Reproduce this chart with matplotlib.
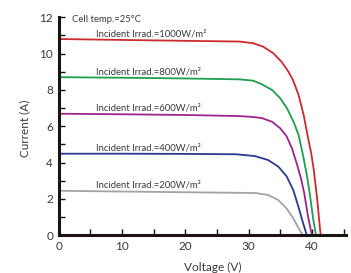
import matplotlib
matplotlib.use("Agg")
import matplotlib.pyplot as plt
from matplotlib.ticker import MultipleLocator

plt.rcParams['font.family'] = ['Lato', 'DejaVu Sans']

# I-V curves, voltage (V) / current (A)
v_1000 = [0, 10, 20, 28.6, 30.7, 32.3, 33.9, 35.2, 36.3, 37.0, 37.9, 38.7, 39.3, 39.9, 40.3, 40.85, 41.3, 41.4]
i_1000 = [10.80, 10.75, 10.70, 10.66, 10.57, 10.38, 10.02, 9.55, 9.0, 8.55, 7.72, 6.62, 5.52, 4.5, 3.6, 1.94, 0.29, 0]

v_800 = [0, 10, 20, 28.6, 30.7, 32.1, 33.7, 35.0, 36.07, 37.1, 37.9, 38.6, 39.2, 39.7, 40.2, 40.65]
i_800 = [8.70, 8.67, 8.63, 8.58, 8.51, 8.31, 8.0, 7.54, 6.99, 6.25, 5.52, 4.4, 3.32, 2.2, 0.9, 0]

v_600 = [0, 10, 20, 28.6, 30.7, 32.1, 33.7, 35.0, 36.0, 36.85, 37.65, 38.3, 38.8, 39.4, 40.0]
i_600 = [6.69, 6.66, 6.62, 6.56, 6.51, 6.45, 6.25, 5.89, 5.45, 4.79, 3.9, 3.1, 2.3, 1.02, 0]

v_400 = [0, 10, 20, 28.0, 31.0, 33.1, 34.7, 36.0, 37.06, 37.85, 38.5, 39.2]
i_400 = [4.49, 4.49, 4.48, 4.46, 4.36, 4.14, 3.78, 3.25, 2.49, 1.6, 0.8, 0]

v_200 = [0, 10, 20, 28.0, 31.0, 33.1, 34.7, 36.0, 37.06, 37.85, 38.6]
i_200 = [2.45, 2.41, 2.37, 2.34, 2.33, 2.22, 1.94, 1.48, 0.94, 0.42, 0]

labels = ['Incident Irrad.=1000W/m²', 'Incident Irrad.=800W/m²',
          'Incident Irrad.=600W/m²', 'Incident Irrad.=400W/m²',
          'Incident Irrad.=200W/m²']
label_y = [11.08, 9.0, 6.98, 4.8, 2.78]
colors = ['#cc2a2e', '#1f9e4f', '#9b2590', '#2b3990', '#a3a3a3']

curves = [(v_1000, i_1000), (v_800, i_800), (v_600, i_600), (v_400, i_400), (v_200, i_200)]

fig = plt.figure(figsize=(3.51, 2.73), dpi=100)
ax = fig.add_axes([0.167, 0.138, 0.819, 0.799])

for (v, i), c in zip(curves, colors):
    ax.plot(v, i, color=c, lw=1.3, solid_joinstyle='round')

txtcol = '#3a3a3a'
for lab, y in zip(labels, label_y):
    ax.text(5.9, y, lab, fontsize=6.8, color=txtcol, va='center')
ax.text(2.1, 11.85, 'Cell temp.=25°C', fontsize=6.8, color=txtcol, va='center')

ax.set_xlim(0, 45.4)
ax.set_ylim(0, 12)
ax.xaxis.set_major_locator(MultipleLocator(10))
ax.xaxis.set_minor_locator(MultipleLocator(5))
ax.yaxis.set_major_locator(MultipleLocator(2))
ax.yaxis.set_minor_locator(MultipleLocator(1))
ax.tick_params(which='both', direction='in', width=1, length=4, colors='#111111',
               labelcolor=txtcol, labelsize=8.5, pad=4)
ax.spines['top'].set_visible(False)
ax.spines['right'].set_visible(False)
for s in ['left', 'bottom']:
    ax.spines[s].set_linewidth(2.2)
    ax.spines[s].set_color('#1a1410')

ax.set_xlabel('Voltage (V)', fontsize=8.5, color=txtcol)
ax.set_ylabel('Current (A)', fontsize=8.5, color=txtcol)
ax.xaxis.set_label_coords(0.537, -0.12)
ax.yaxis.set_label_coords(-0.1, 0.49)

fig.savefig('out.png', dpi=100)
